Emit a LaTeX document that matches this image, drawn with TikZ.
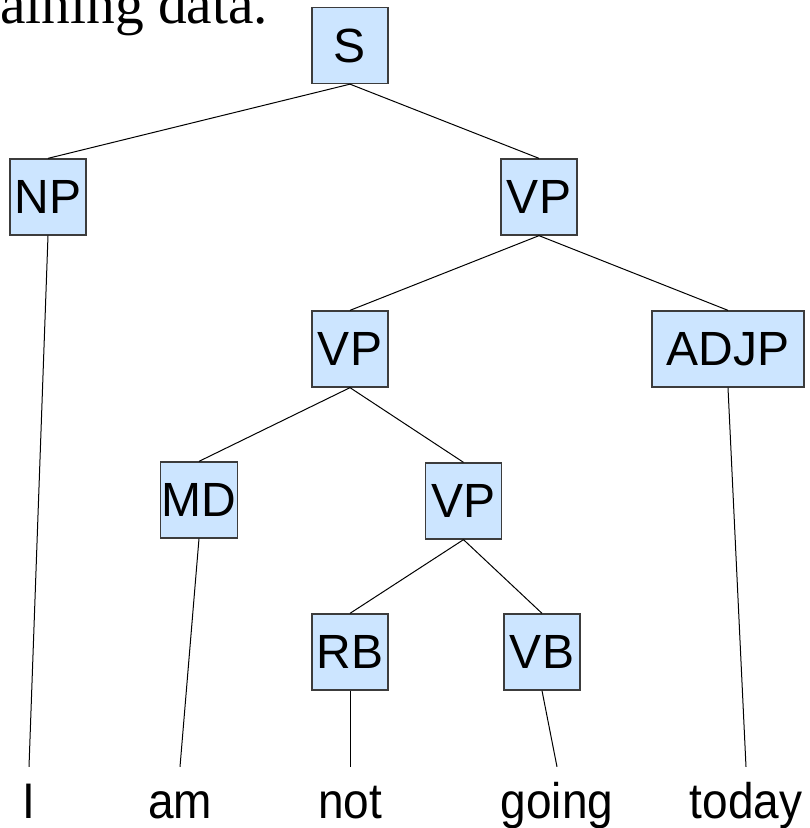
\documentclass[tikz,border=0pt]{standalone}
\usepackage{fontspec}
\setsansfont{Liberation Sans}
\newfontfamily\capfont{Liberation Serif}
\definecolor{boxfill}{RGB}{204,229,255}
\definecolor{boxline}{RGB}{60,60,60}
\begin{document}
\begin{tikzpicture}[x=1pt,y=-1pt,
  cat/.style={draw=boxline, line width=1.3pt, fill=boxfill, minimum width=76pt, minimum height=76pt, inner xsep=1pt, font=\fontsize{48}{48}\sffamily},
  word/.style={anchor=base, font=\fontsize{50}{50}\sffamily, text height=36pt, text depth=0pt, inner ysep=15pt, inner xsep=0pt},
  edge/.style={draw=black, line width=1pt}]
\useasboundingbox (0,0) rectangle (810,828);
\clip (0,0) rectangle (810,828);
\node[anchor=base west, inner sep=0pt, font=\fontsize{56}{56}\capfont] (cap) at (0,23) {\resizebox{268pt}{!}{aining data.}};
% category nodes
\node[cat] (S) at (350,45.5) {S};
\node[cat] (NP) at (48,197) {NP};
\node[cat] (VPa) at (539,197) {VP};
\node[cat] (VPb) at (350,349) {VP};
\node[cat, minimum width=152pt] (ADJP) at (728,349) {ADJP};
\node[cat] (MD) at (199,500) {MD};
\node[cat] (VPc) at (463.5,501) {VP};
\node[cat] (RB) at (350,652) {RB};
\node[cat] (VB) at (542,652) {VB};
% words
\node[word] (wI) at (29,818) {\scalebox{0.92}[1]{I}};
\node[word] (wam) at (180,818) {\scalebox{0.92}[1]{am}};
\node[word] (wnot) at (350,818) {\scalebox{0.92}[1]{not}};
\node[word] (wgoing) at (557,818) {\scalebox{0.92}[1]{going}};
\node[word] (wtoday) at (746,818) {\scalebox{0.92}[1]{today}};
% edges
\draw[edge] (S.south) -- (NP.north);
\draw[edge] (S.south) -- (VPa.north);
\draw[edge] (VPa.south) -- (VPb.north);
\draw[edge] (VPa.south) -- (ADJP.north);
\draw[edge] (VPb.south) -- (MD.north);
\draw[edge] (VPb.south) -- (VPc.north);
\draw[edge] (VPc.south) -- (RB.north);
\draw[edge] (VPc.south) -- (VB.north);
\draw[edge] (NP.south) -- (wI.north);
\draw[edge] (MD.south) -- (wam.north);
\draw[edge] (RB.south) -- (wnot.north);
\draw[edge] (VB.south) -- (wgoing.north);
\draw[edge] (ADJP.south) -- (wtoday.north);
\end{tikzpicture}
\end{document}
